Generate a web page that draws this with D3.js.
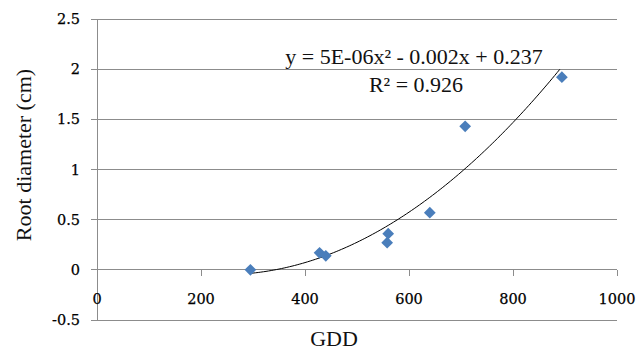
<!DOCTYPE html>
<html>
<head>
<meta charset="utf-8">
<script src="https://cdn.jsdelivr.net/npm/d3@7"></script>
<style>
  body { margin: 0; background: #fff; }
  svg { display: block; }
  .tick-lbl { font-family: "DejaVu Serif", serif; font-size: 14.5px; fill: #000; stroke: #000; stroke-width: 0.25px; }
  .title { font-family: "Liberation Serif", serif; font-size: 22px; fill: #111; }
</style>
</head>
<body>
<svg id="chart" width="644" height="351"></svg>
<script>
  // GDD vs root diameter
  const gdd = [295, 428, 440, 558, 560, 640, 708, 894];
  const diameter = [0.0, 0.17, 0.14, 0.27, 0.36, 0.57, 1.43, 1.92];
  const xTicks = [0, 200, 400, 600, 800, 1000];
  const yTicks = [-0.5, 0, 0.5, 1, 1.5, 2, 2.5];
  const eqText = "y = 5E-06x\u00b2 - 0.002x + 0.237";
  const r2Text = "R\u00b2 = 0.926";

  const svg = d3.select("#chart");
  const x = d3.scaleLinear().domain([0, 1000]).range([97, 617]);
  const y = d3.scaleLinear().domain([-0.5, 2.5]).range([320, 19]);

  // gridlines
  svg.append("g").selectAll("line").data(yTicks).join("line")
    .attr("x1", x(0)).attr("x2", x(1000))
    .attr("y1", d => y(d)).attr("y2", d => y(d))
    .attr("stroke", "#8c8c8c").attr("stroke-width", 1).attr("shape-rendering", "crispEdges");

  // y axis line + ticks
  svg.append("line").attr("x1", x(0)).attr("x2", x(0)).attr("y1", y(2.5)).attr("y2", y(-0.5))
    .attr("stroke", "#8c8c8c").attr("shape-rendering", "crispEdges");
  svg.append("g").selectAll("line").data(yTicks).join("line")
    .attr("x1", x(0) - 6).attr("x2", x(0))
    .attr("y1", d => y(d)).attr("y2", d => y(d))
    .attr("stroke", "#8c8c8c").attr("shape-rendering", "crispEdges");
  svg.append("g").selectAll("text").data(yTicks).join("text")
    .attr("class", "tick-lbl")
    .attr("x", x(0) - 17).attr("y", d => y(d) + 5)
    .attr("text-anchor", "end")
    .text(d => d);

  // x axis ticks on the zero line
  svg.append("g").selectAll("line").data(xTicks).join("line")
    .attr("x1", d => x(d)).attr("x2", d => x(d))
    .attr("y1", y(0)).attr("y2", y(0) + 6)
    .attr("stroke", "#8c8c8c").attr("shape-rendering", "crispEdges");
  svg.append("g").selectAll("text").data(xTicks).join("text")
    .attr("class", "tick-lbl")
    .attr("x", d => x(d)).attr("y", 304)
    .attr("text-anchor", "middle")
    .text(d => d);

  // quadratic least-squares trendline through the points
  function polyFit2(xs, ys) {
    const n = xs.length;
    let s = [0, 0, 0, 0, 0], t = [0, 0, 0];
    for (let i = 0; i < n; i++) {
      let p = 1;
      for (let k = 0; k < 5; k++) { s[k] += p; if (k < 3) t[k] += p * ys[i]; p *= xs[i]; }
    }
    const A = [[s[0], s[1], s[2], t[0]], [s[1], s[2], s[3], t[1]], [s[2], s[3], s[4], t[2]]];
    for (let c = 0; c < 3; c++) {
      for (let r = c + 1; r < 3; r++) {
        const f = A[r][c] / A[c][c];
        for (let k = c; k < 4; k++) A[r][k] -= f * A[c][k];
      }
    }
    const b = [0, 0, 0];
    for (let r = 2; r >= 0; r--) {
      let v = A[r][3];
      for (let k = r + 1; k < 3; k++) v -= A[r][k] * b[k];
      b[r] = v / A[r][r];
    }
    return b; // c0 + c1 x + c2 x^2
  }
  const coef = polyFit2(gdd, diameter);
  const xs = d3.range(d3.min(gdd), d3.max(gdd) + 1, 5);
  const line = d3.line().x(d => x(d)).y(d => y(coef[0] + coef[1] * d + coef[2] * d * d));
  svg.append("path").datum(xs).attr("d", line)
    .attr("fill", "none").attr("stroke", "#000").attr("stroke-width", 1);

  // markers
  svg.append("g").selectAll("path").data(gdd).join("path")
    .attr("d", d3.symbol().type(d3.symbolDiamond2).size(88))
    .attr("transform", (d, i) => `translate(${x(d)},${y(diameter[i])})`)
    .attr("fill", "#4a7ebb");

  // equation
  svg.append("text").attr("class", "title").attr("x", 414).attr("y", 64).attr("text-anchor", "middle").text(eqText);
  svg.append("text").attr("class", "title").attr("x", 416).attr("y", 92).attr("text-anchor", "middle").text(r2Text);

  // axis titles
  svg.append("text").attr("class", "title").attr("x", 334).attr("y", 346).attr("text-anchor", "middle").text("GDD");
  svg.append("text").attr("class", "title")
    .attr("transform", "translate(31,155) rotate(-90)")
    .attr("text-anchor", "middle").text("Root diameter (cm)");
</script>
</body>
</html>
